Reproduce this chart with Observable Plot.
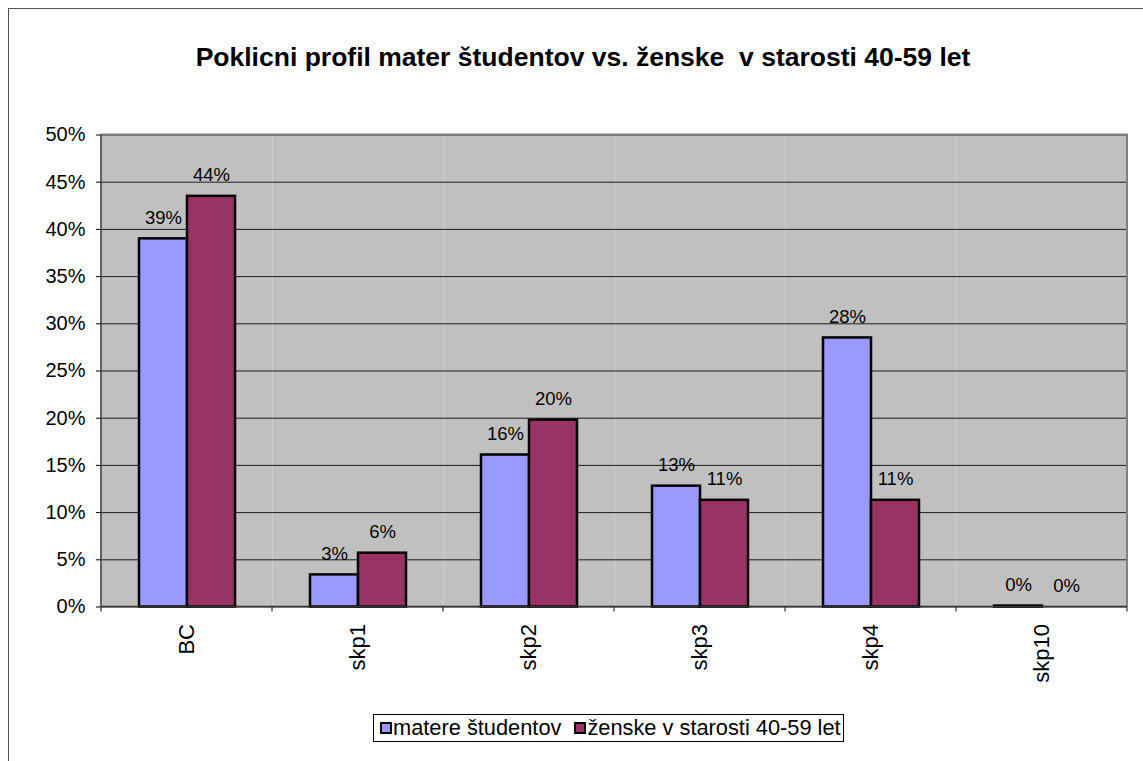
<!DOCTYPE html>
<html><head><meta charset="utf-8">
<script src="https://cdn.jsdelivr.net/npm/d3@7"></script>
<script src="https://cdn.jsdelivr.net/npm/@observablehq/plot@0.6"></script>
<style>
html,body{margin:0;padding:0;background:#fff}
body{font-family:"Liberation Sans",Arial,sans-serif;overflow:hidden;width:1143px;height:761px;position:relative}
#frame{position:absolute;left:8px;top:8px;width:1200px;height:800px;border:1px solid #555;box-sizing:border-box}
#title{position:absolute;left:0;width:1166px;top:42px;text-align:center;font-weight:bold;font-size:26.5px;line-height:30px;white-space:pre;color:#000}
#chart{position:absolute;left:0;top:110px}
#legend{position:absolute;left:373px;top:714px;width:471px;height:28px;border:1px solid #000;box-sizing:border-box;display:flex;align-items:center;justify-content:flex-start;padding-left:6px;font-size:21.8px;white-space:pre;color:#000;overflow:hidden}
.sw{display:inline-block;width:12px;height:12px;border:2px solid #000;box-sizing:border-box;margin-right:1px}
.item{display:flex;align-items:center;margin-right:13px}
</style></head>
<body>
<div id="frame"></div>
<div id="title"></div>
<div id="chart"></div>
<div id="legend"></div>
<script>
const titleText = "Poklicni profil mater študentov vs. ženske  v starosti 40-59 let";
const categories = ["BC", "skp1", "skp2", "skp3", "skp4", "skp10"];
const seriesNames = ["matere študentov", "ženske v starosti 40-59 let"];
const materValues = [0.390, 0.034, 0.161, 0.128, 0.285, 0.001];
const zenskeValues = [0.435, 0.057, 0.198, 0.113, 0.113, 0.0];
const seriesColors = ["#9999FF", "#993366"];
const yTicks = [0, 0.05, 0.10, 0.15, 0.20, 0.25, 0.30, 0.35, 0.40, 0.45, 0.50];

const data = categories.flatMap((c, i) => [
  {cat: c, series: seriesNames[0], value: materValues[i]},
  {cat: c, series: seriesNames[1], value: zenskeValues[i]}
]);
const pct = d3.format(".0%");

document.getElementById("title").textContent = titleText;

const plot = Plot.plot({
  width: 1143,
  height: 600,
  marginTop: 24.5,
  marginBottom: 103.5,
  marginLeft: 101,
  marginRight: 16,
  style: {fontFamily: '"Liberation Sans", Arial, sans-serif', fontSize: "20px", background: "transparent", color: "#000"},
  fx: {domain: categories, padding: 0, label: null, axis: null},
  x: {domain: seriesNames, paddingInner: 0, paddingOuter: 0.745, axis: null},
  y: {domain: [0, 0.5], axis: null},
  color: {domain: seriesNames, range: seriesColors},
  marks: [
    Plot.frame({fill: "#C0C0C0", stroke: null}),
    Plot.gridY(yTicks, {stroke: "#000", strokeOpacity: 0.85, strokeWidth: 1}),
    Plot.axisY({ticks: yTicks, tickFormat: pct, tickSize: 5, tickPadding: 11, label: null, fontSize: 20}),
    Plot.axisFx({anchor: "bottom", tickRotate: -90, tickSize: 0, tickPadding: 17, label: null, fontSize: 22}),
    Plot.barY(data, {fx: "cat", x: "series", y: "value", fill: "series", stroke: "#000", strokeWidth: 2.5}),
    Plot.text(data, {fx: "cat", x: "series", y: "value", text: d => pct(d.value), lineAnchor: "bottom", dy: -15, fontSize: 18.5, fill: "#000"})
  ]
});
document.getElementById("chart").appendChild(plot);

// plot-area border and category boundary ticks, from the library's scales
const fx = plot.scale("fx"), y = plot.scale("y");
const svg = d3.select(plot);
const x0 = fx.range[0], x1 = fx.range[1];
const yb = y.apply(0), yt = y.apply(0.5);
const g = svg.append("g");
g.append("path").attr("d", `M${x0},${yt}H${x1}V${yb}`).attr("fill", "none").attr("stroke", "#808080").attr("stroke-width", 2);
g.append("line").attr("x1", x0).attr("x2", x0).attr("y1", yt).attr("y2", yb).attr("stroke", "#333").attr("stroke-width", 1.5);
g.append("line").attr("x1", x0).attr("x2", x1).attr("y1", yb).attr("y2", yb).attr("stroke", "#333").attr("stroke-width", 1.5);
const bounds = categories.map(c => fx.apply(c)).concat([fx.apply(categories[categories.length - 1]) + fx.bandwidth]);
g.selectAll(".bt").data(bounds).join("line").attr("x1", d => d).attr("x2", d => d).attr("y1", yb).attr("y2", yb + 5).attr("stroke", "#333").attr("stroke-width", 1.2);

// legend
const leg = d3.select("#legend");
seriesNames.forEach((s, i) => {
  const it = leg.append("span").attr("class", "item");
  it.append("span").attr("class", "sw").style("background", seriesColors[i]);
  it.append("span").text(s);
});
</script>
</body></html>
